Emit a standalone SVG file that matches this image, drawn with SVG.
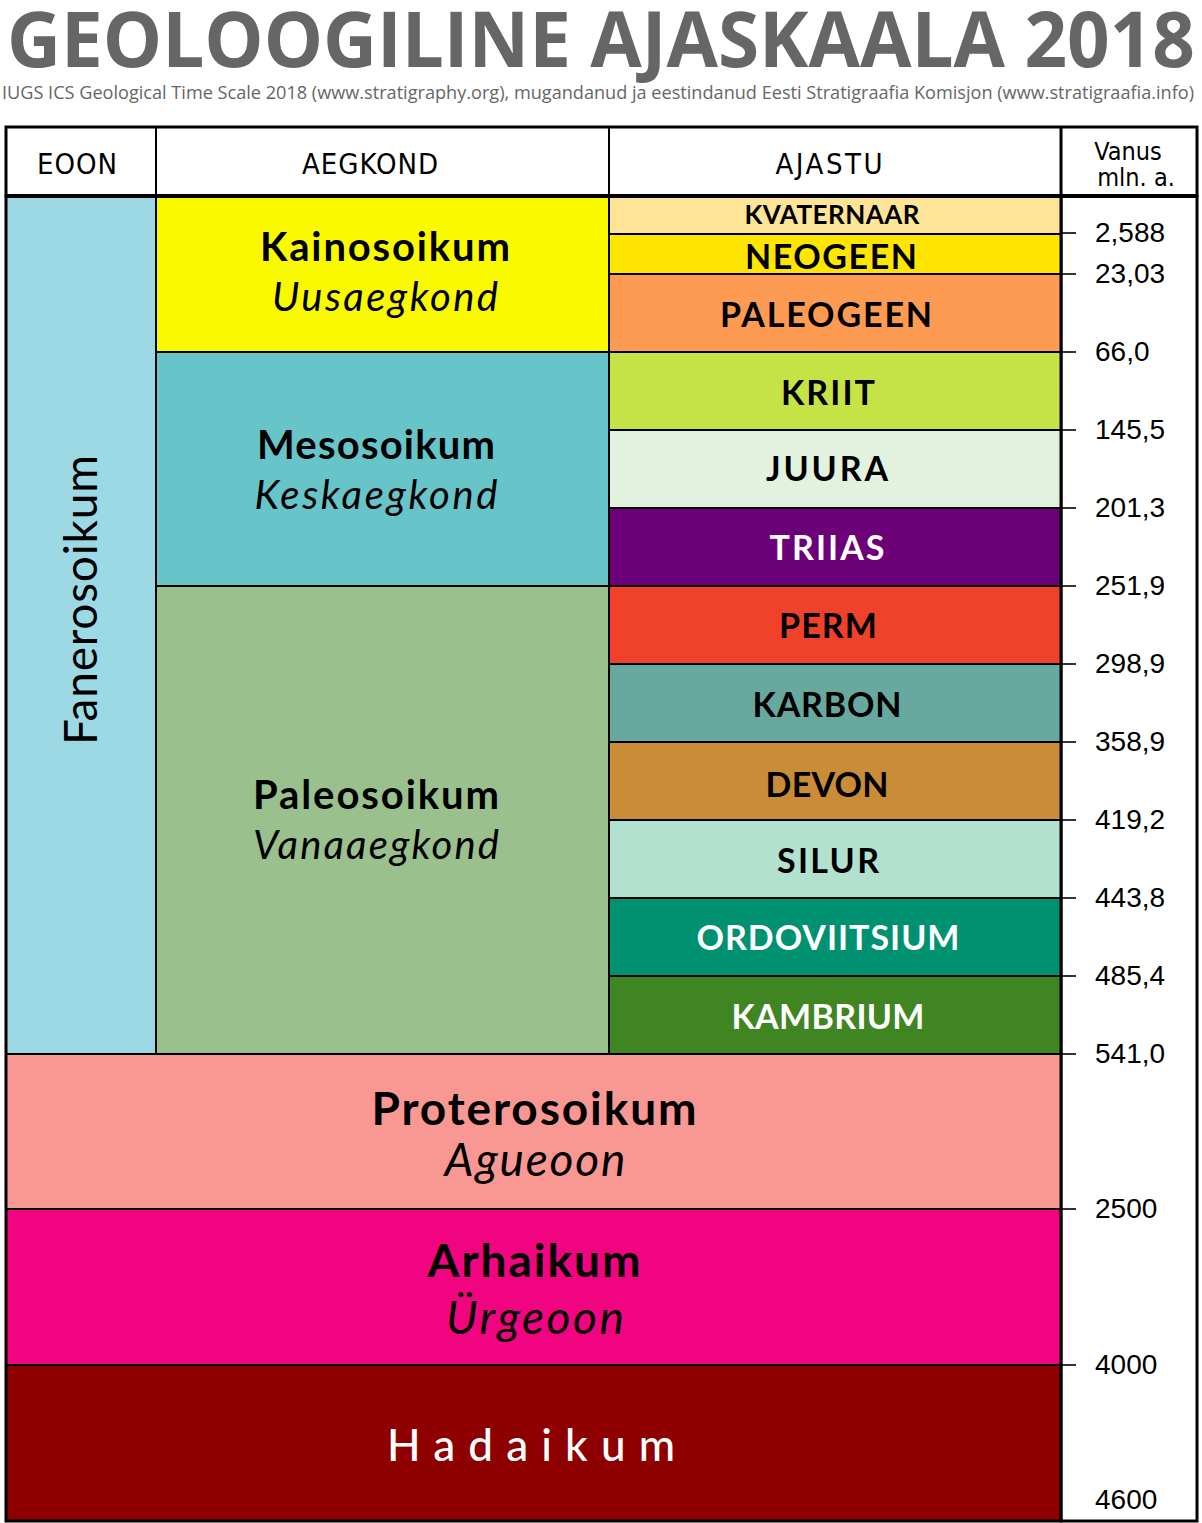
<svg xmlns="http://www.w3.org/2000/svg" width="1202" height="1523" viewBox="0 0 1202 1523">
<style>
.title{font-family:"Open Sans","Liberation Sans",sans-serif;font-weight:bold;fill:#666666}
.sub{font-family:"Open Sans","Liberation Sans",sans-serif;fill:#666666}
.hdr{font-family:"DejaVu Sans Condensed","DejaVu Sans",sans-serif;fill:#000;text-anchor:middle}
.per{font-family:Lato,"Open Sans",sans-serif;font-weight:bold;text-anchor:middle;fill:#000}
.era{font-family:Lato,"Open Sans",sans-serif;font-weight:bold;text-anchor:middle;fill:#000}
.eraI{font-family:Lato,"Open Sans",sans-serif;font-style:italic;text-anchor:middle;fill:#000}
.eraN{font-family:Lato,"Open Sans",sans-serif;text-anchor:middle;fill:#000}
.w{fill:#fff}
.cell{stroke:#000;stroke-width:2}
.tick{font-family:"Liberation Sans",Arial,sans-serif;font-size:28px;fill:#000}
.tk{stroke:#000;stroke-width:1.6}
</style>
<rect width="1202" height="1523" fill="#fff"/>
<text class="title" x="7" y="67" font-size="77" textLength="1188" lengthAdjust="spacingAndGlyphs">GEOLOOGILINE AJASKAALA 2018</text>
<text class="sub" x="2" y="99" font-size="18.5" textLength="1192" lengthAdjust="spacingAndGlyphs">IUGS ICS Geological Time Scale 2018 (www.stratigraphy.org), mugandanud ja eestindanud Eesti Stratigraafia Komisjon (www.stratigraafia.info)</text>

<g id="header">
<rect x="6" y="127" width="1191" height="69" fill="#fff" stroke="#000" stroke-width="3"/>
<line x1="156" y1="127" x2="156" y2="196" stroke="#000" stroke-width="2"/>
<line x1="609" y1="127" x2="609" y2="196" stroke="#000" stroke-width="2"/>
<line x1="1061" y1="127" x2="1061" y2="196" stroke="#000" stroke-width="3"/>
<text class="hdr" x="77" y="174" font-size="29" textLength="80">EOON</text>
<text class="hdr" x="370" y="174" font-size="29" textLength="136">AEGKOND</text>
<text class="hdr" x="829" y="174" font-size="29" textLength="107">AJASTU</text>
<text class="hdr" x="1128" y="160" font-size="25">Vanus</text>
<text class="hdr" x="1136" y="186" font-size="25">mln. a.</text>
</g>

<g id="age-column">
<rect x="1061" y="196" width="136" height="1325" fill="#fff" stroke="#000" stroke-width="3"/>
</g>

<g id="fanerosoikum"><rect class="cell" x="6" y="196" width="150" height="858" fill="#9DD8E5"/>
<text class="eraN" transform="translate(97 600) rotate(-90)" font-size="46" textLength="290">Fanerosoikum</text></g>

<g id="kainosoikum"><rect class="cell" x="156" y="196" width="453" height="156" fill="#F9F900"/>
<text class="era" x="385" y="261" font-size="40" textLength="250">Kainosoikum</text>
<text class="eraI" x="385" y="311" font-size="40" textLength="226">Uusaegkond</text></g>

<g id="mesosoikum"><rect class="cell" x="156" y="352" width="453" height="234" fill="#67C5CA"/>
<text class="era" x="376" y="459" font-size="40" textLength="238">Mesosoikum</text>
<text class="eraI" x="376" y="509" font-size="40" textLength="243">Keskaegkond</text></g>

<g id="paleosoikum"><rect class="cell" x="156" y="586" width="453" height="468" fill="#9AC08D"/>
<text class="era" x="376" y="809" font-size="40" textLength="246">Paleosoikum</text>
<text class="eraI" x="376" y="859" font-size="40" textLength="246">Vanaaegkond</text></g>

<g id="kvaternaar"><rect class="cell" x="609" y="196" width="452" height="38" fill="#FEE496"/>
<text class="per" x="832" y="224" font-size="26" textLength="175">KVATERNAAR</text></g>
<g id="neogeen"><rect class="cell" x="609" y="234" width="452" height="40" fill="#FFE600"/>
<text class="per" x="831" y="269" font-size="34" textLength="172">NEOGEEN</text></g>
<g id="paleogeen"><rect class="cell" x="609" y="274" width="452" height="78" fill="#FD9B52"/>
<text class="per" x="826" y="327" font-size="34" textLength="212">PALEOGEEN</text></g>
<g id="kriit"><rect class="cell" x="609" y="352" width="452" height="78" fill="#C6E346"/>
<text class="per" x="828" y="405" font-size="34" textLength="94">KRIIT</text></g>
<g id="juura"><rect class="cell" x="609" y="430" width="452" height="78" fill="#E2F2DF"/>
<text class="per" x="827" y="481" font-size="34" textLength="122">JUURA</text></g>
<g id="triias"><rect class="cell" x="609" y="508" width="452" height="78" fill="#6B0079"/>
<text class="per w" x="827" y="560" font-size="34" textLength="115">TRIIAS</text></g>
<g id="perm"><rect class="cell" x="609" y="586" width="452" height="78" fill="#F0412A"/>
<text class="per" x="828" y="638" font-size="34" textLength="98">PERM</text></g>
<g id="karbon"><rect class="cell" x="609" y="664" width="452" height="78" fill="#67A99F"/>
<text class="per" x="827" y="717" font-size="34" textLength="149">KARBON</text></g>
<g id="devon"><rect class="cell" x="609" y="742" width="452" height="78" fill="#CB8C38"/>
<text class="per" x="827" y="797" font-size="34" textLength="123">DEVON</text></g>
<g id="silur"><rect class="cell" x="609" y="820" width="452" height="78" fill="#B3E1CF"/>
<text class="per" x="828" y="873" font-size="34" textLength="102">SILUR</text></g>
<g id="ordoviitsium"><rect class="cell" x="609" y="898" width="452" height="78" fill="#009270"/>
<text class="per w" x="828" y="950" font-size="34" textLength="263">ORDOVIITSIUM</text></g>
<g id="kambrium"><rect class="cell" x="609" y="976" width="452" height="78" fill="#3F8522"/>
<text class="per w" x="828" y="1029" font-size="34" textLength="193">KAMBRIUM</text></g>

<g id="proterosoikum"><rect class="cell" x="6" y="1054" width="1055" height="155" fill="#F99893"/>
<text class="era" x="534" y="1125" font-size="46" textLength="325">Proterosoikum</text>
<text class="eraI" x="535" y="1176" font-size="46" textLength="181">Agueoon</text></g>
<g id="arhaikum"><rect class="cell" x="6" y="1209" width="1055" height="156" fill="#F0047F"/>
<text class="era" x="534" y="1277" font-size="46" textLength="213">Arhaikum</text>
<text class="eraI" x="535" y="1334" font-size="46" textLength="178">Ürgeoon</text></g>
<g id="hadaikum"><rect class="cell" x="6" y="1365" width="1055" height="156" fill="#8E0000"/>
<text class="era w" x="531" y="1461" font-size="44" style="font-weight:500" textLength="288">Hadaikum</text></g>

<rect x="6" y="196" width="1055" height="1325" fill="none" stroke="#000" stroke-width="3"/>
<line x1="6" y1="196" x2="1197" y2="196" stroke="#000" stroke-width="4"/>

<g id="ticks">
<line class="tk" x1="1061" y1="233" x2="1076" y2="233"/>
<line class="tk" x1="1061" y1="274" x2="1076" y2="274"/>
<line class="tk" x1="1061" y1="352" x2="1076" y2="352"/>
<line class="tk" x1="1061" y1="430" x2="1076" y2="430"/>
<line class="tk" x1="1061" y1="508" x2="1076" y2="508"/>
<line class="tk" x1="1061" y1="586" x2="1076" y2="586"/>
<line class="tk" x1="1061" y1="664" x2="1076" y2="664"/>
<line class="tk" x1="1061" y1="742" x2="1076" y2="742"/>
<line class="tk" x1="1061" y1="820" x2="1076" y2="820"/>
<line class="tk" x1="1061" y1="898" x2="1076" y2="898"/>
<line class="tk" x1="1061" y1="976" x2="1076" y2="976"/>
<line class="tk" x1="1061" y1="1054" x2="1076" y2="1054"/>
<line class="tk" x1="1061" y1="1209" x2="1076" y2="1209"/>
<line class="tk" x1="1061" y1="1365" x2="1076" y2="1365"/>
<text class="tick" x="1095" y="242">2,588</text>
<text class="tick" x="1095" y="283">23,03</text>
<text class="tick" x="1095" y="361">66,0</text>
<text class="tick" x="1095" y="439">145,5</text>
<text class="tick" x="1095" y="517">201,3</text>
<text class="tick" x="1095" y="595">251,9</text>
<text class="tick" x="1095" y="673">298,9</text>
<text class="tick" x="1095" y="751">358,9</text>
<text class="tick" x="1095" y="829">419,2</text>
<text class="tick" x="1095" y="907">443,8</text>
<text class="tick" x="1095" y="985">485,4</text>
<text class="tick" x="1095" y="1063">541,0</text>
<text class="tick" x="1095" y="1218">2500</text>
<text class="tick" x="1095" y="1374">4000</text>
<text class="tick" x="1095" y="1509">4600</text>
</g>
</svg>
